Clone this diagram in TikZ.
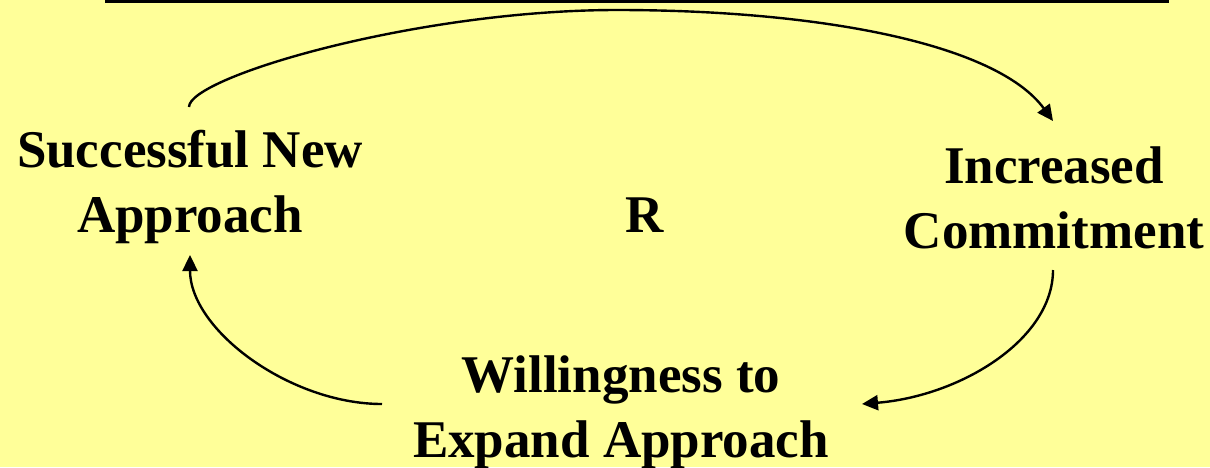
\documentclass[tikz,border=0pt]{standalone}
\usepackage{fontspec}
\setmainfont{Liberation Serif}
\usetikzlibrary{arrows.meta}
\definecolor{bgyellow}{RGB}{255,255,153}
\tikzset{
  label text/.style={font=\fontsize{53}{65}\selectfont\bfseries, align=center, inner sep=0pt, anchor=base},
  loop arrow/.style={line width=2.4pt, -{Triangle[length=16pt,width=15pt]}}
}
\begin{document}
\begin{tikzpicture}[x=1pt,y=-1pt]
  \fill[bgyellow] (0,0) rectangle (1210,467);
  \useasboundingbox (0,0) rectangle (1210,467);
  \fill[black] (105,0) rectangle (1169,2.5);
  \node[label text] (sna) at (190,232) {Successful New\\Approach};
  \node[label text] (ic) at (1054,248) {Increased\\Commitment};
  \node[label text] (wea) at (621,457) {Willingness to\\Expand Approach};
  \node[label text] (r) at (645,232) {R};
  \coordinate (snaTop) at (189,107);
  \coordinate (peak) at (617,10);
  \coordinate (icTop) at (1053,121);
  \coordinate (icBot) at (1053,270);
  \coordinate (weaRight) at (862,404);
  \coordinate (weaLeft) at (382,404);
  \coordinate (snaBot) at (190,255);
  \draw[loop arrow] (snaTop) .. controls (189,77) and (417,10) .. (peak)
     .. controls (817,10) and (996,43) .. (icTop);
  \draw[loop arrow] (icBot) .. controls (1053,340) and (960,396) .. (weaRight);
  \draw[loop arrow] (weaLeft) .. controls (290,404) and (190,330) .. (snaBot);
\end{tikzpicture}
\end{document}
